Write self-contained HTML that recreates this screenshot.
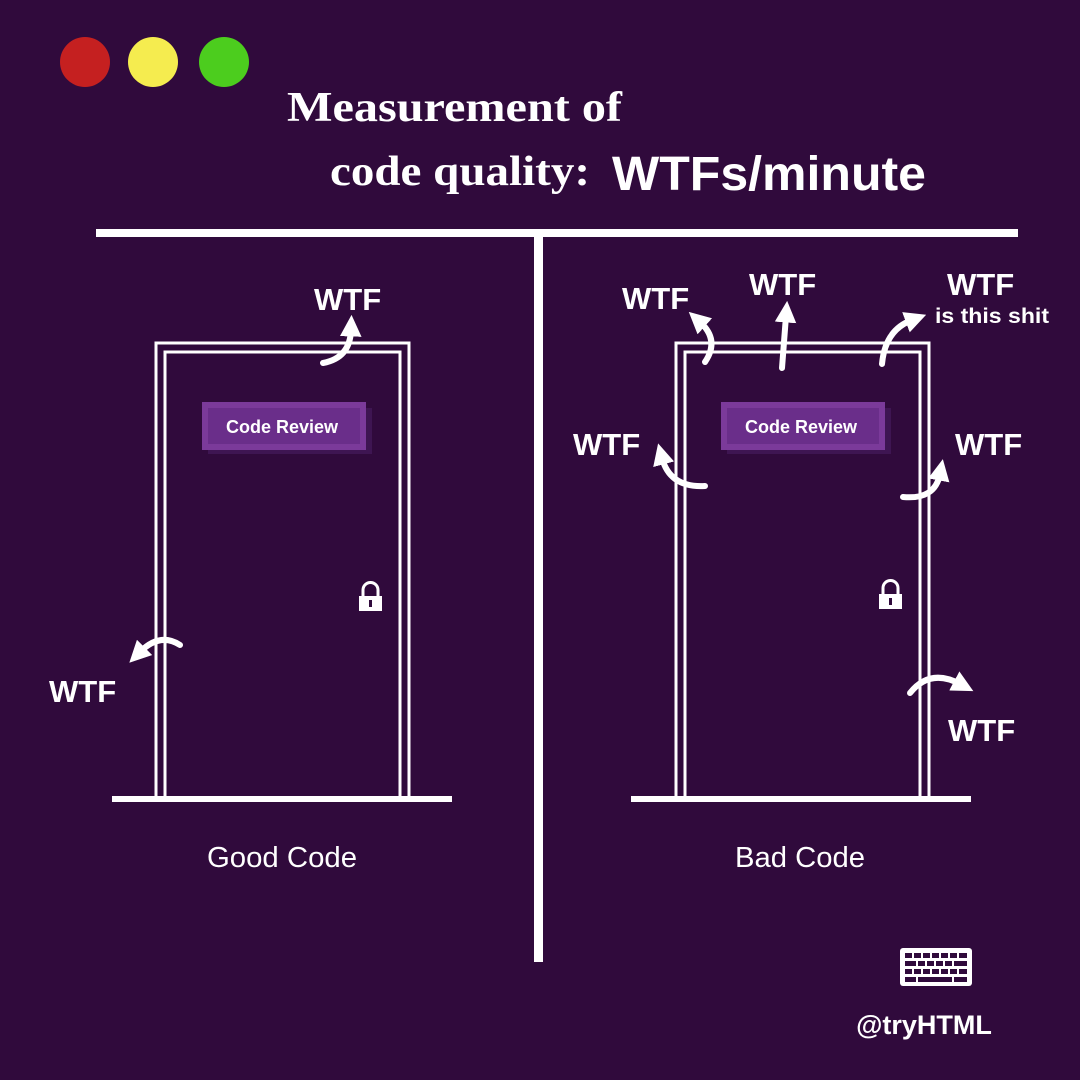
<!DOCTYPE html>
<html><head><meta charset="utf-8"><style>
html,body{margin:0;padding:0;background:#300a3c;}
svg{display:block}
.s{font-family:"Liberation Sans",sans-serif;font-weight:bold;fill:#fff}
.serif{font-family:"Liberation Serif",serif;font-weight:bold;fill:#fff}
</style></head><body>
<svg width="1080" height="1080" viewBox="0 0 1080 1080" xmlns="http://www.w3.org/2000/svg">
<defs>
<marker id="ah" viewBox="0 0 10 10" refX="3" refY="5" markerWidth="3.6" markerHeight="3.6" orient="auto-start-reverse">
<path d="M0,0 L10,5 L0,10 z" fill="#fff"/>
</marker>
</defs>
<rect width="1080" height="1080" fill="#300a3c"/>
<circle cx="85" cy="62" r="25" fill="#c52020"/>
<circle cx="153" cy="62" r="25" fill="#f5ec4f"/>
<circle cx="224" cy="62" r="25" fill="#4ccd1e"/>
<text x="287" y="121" class="serif" font-size="42" textLength="335" lengthAdjust="spacingAndGlyphs">Measurement of</text>
<text x="330" y="185" class="serif" font-size="42" textLength="260" lengthAdjust="spacingAndGlyphs">code quality:</text>
<text x="612" y="190" class="s" font-size="48" textLength="314" lengthAdjust="spacingAndGlyphs">WTFs/minute</text>
<rect x="96" y="229" width="922" height="8" fill="#fff"/>
<rect x="534" y="233" width="9" height="729" fill="#fff"/>

<g fill="none" stroke="#fff" stroke-width="3">
<path d="M156,797 V343 H409 V797"/>
<path d="M165,797 V352 H400 V797"/>
<path d="M676,797 V343 H929 V797"/>
<path d="M685,797 V352 H920 V797"/>
</g>
<rect x="112" y="796" width="340" height="6" fill="#fff"/>
<rect x="631" y="796" width="340" height="6" fill="#fff"/>

<rect x="208" y="408" width="164" height="46" fill="#3e1552"/>
<rect x="202" y="402" width="164" height="48" fill="#7b3a9a"/>
<rect x="208" y="408" width="152" height="36" fill="#6a2e8a"/>
<text x="282" y="433" class="s" font-size="18" text-anchor="middle">Code Review</text>
<rect x="727" y="408" width="164" height="46" fill="#3e1552"/>
<rect x="721" y="402" width="164" height="48" fill="#7b3a9a"/>
<rect x="727" y="408" width="152" height="36" fill="#6a2e8a"/>
<text x="801" y="433" class="s" font-size="18" text-anchor="middle">Code Review</text>

<g fill="#fff">
<rect x="359" y="596" width="23" height="15"/>
<path d="M363,597 V590 a7.5,7.5 0 0 1 15,0 V597" fill="none" stroke="#fff" stroke-width="3"/>
<rect x="879" y="594" width="23" height="15"/>
<path d="M883,595 V588 a7.5,7.5 0 0 1 15,0 V595" fill="none" stroke="#fff" stroke-width="3"/>
</g>
<rect x="369" y="600" width="3" height="7" fill="#300a3c"/>
<rect x="889" y="598" width="3" height="7" fill="#300a3c"/>

<g fill="none" stroke="#fff" stroke-width="6" stroke-linecap="round" marker-end="url(#ah)">
<path d="M323,363 Q350,358 351,330"/>
<path d="M180,645 Q160,632 140,652"/>
<path d="M705,362 Q720,340 700,322"/>
<path d="M782,368 L786,316"/>
<path d="M882,364 Q885,330 912,320"/>
<path d="M705,486 Q670,488 662,458"/>
<path d="M903,497 Q935,500 940,474"/>
<path d="M910,693 Q930,668 960,684"/>
</g>

<g class="s" font-size="31">
<text x="314" y="310">WTF</text>
<text x="49" y="702">WTF</text>
<text x="622" y="309">WTF</text>
<text x="749" y="295">WTF</text>
<text x="947" y="295">WTF</text>
<text x="573" y="455">WTF</text>
<text x="955" y="455">WTF</text>
<text x="948" y="741">WTF</text>
</g>
<text x="935" y="323" class="s" font-size="21" textLength="114" lengthAdjust="spacingAndGlyphs">is this shit</text>

<text x="282" y="867" font-family="Liberation Sans,sans-serif" font-size="29" fill="#fff" text-anchor="middle" textLength="150" lengthAdjust="spacingAndGlyphs">Good Code</text>
<text x="800" y="867" font-family="Liberation Sans,sans-serif" font-size="29" fill="#fff" text-anchor="middle" textLength="130" lengthAdjust="spacingAndGlyphs">Bad Code</text>

<rect x="900" y="948" width="72" height="38" rx="3" fill="#fff"/>
<g fill="#300a3c">
<rect x="905" y="953" width="7" height="5"/><rect x="914" y="953" width="7" height="5"/><rect x="923" y="953" width="7" height="5"/><rect x="932" y="953" width="7" height="5"/><rect x="941" y="953" width="7" height="5"/><rect x="950" y="953" width="7" height="5"/><rect x="959" y="953" width="8" height="5"/>
<rect x="905" y="961" width="11" height="5"/><rect x="918" y="961" width="7" height="5"/><rect x="927" y="961" width="7" height="5"/><rect x="936" y="961" width="7" height="5"/><rect x="945" y="961" width="7" height="5"/><rect x="954" y="961" width="13" height="5"/>
<rect x="905" y="969" width="7" height="5"/><rect x="914" y="969" width="7" height="5"/><rect x="923" y="969" width="7" height="5"/><rect x="932" y="969" width="7" height="5"/><rect x="941" y="969" width="7" height="5"/><rect x="950" y="969" width="7" height="5"/><rect x="959" y="969" width="8" height="5"/>
<rect x="905" y="977" width="11" height="5"/><rect x="918" y="977" width="34" height="5"/><rect x="954" y="977" width="13" height="5"/>
</g>
<text x="924" y="1034" class="s" font-size="27" text-anchor="middle">@tryHTML</text>
</svg>
</body></html>
